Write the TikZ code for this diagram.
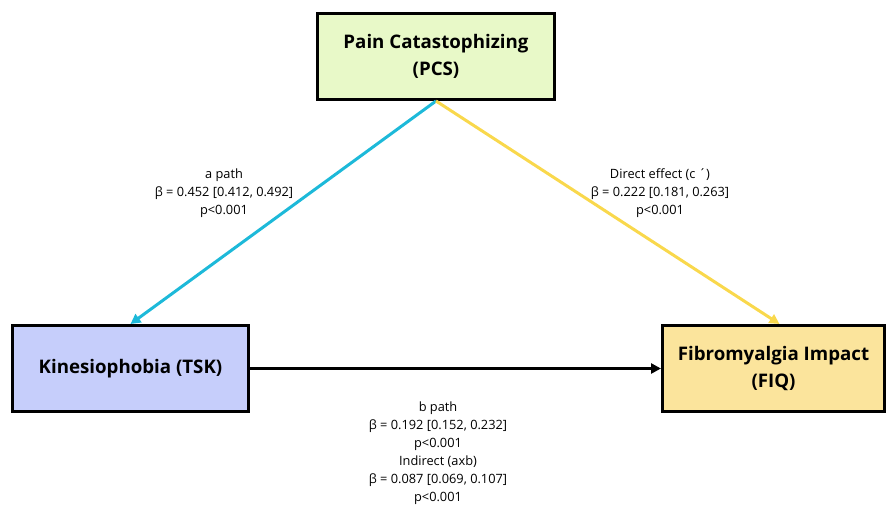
\documentclass[tikz,border=0pt]{standalone}
\usepackage{fontspec}
\setmainfont{Open Sans}
\usetikzlibrary{arrows.meta}

\definecolor{pcsfill}{HTML}{E8F9C8}
\definecolor{tskfill}{HTML}{C6CEFB}
\definecolor{fiqfill}{HTML}{FBE49C}
\definecolor{apath}{HTML}{1DB9D9}
\definecolor{cpath}{HTML}{F9D84C}

\begin{document}
\begin{tikzpicture}[x=1pt, y=1pt,
	main/.style = {draw, line width=3pt, minimum height=86pt, align=center, font=\fontsize{18.7}{27}\selectfont\bfseries},
	lab/.style = {align=center, font=\fontsize{12.8}{18}\selectfont},
	link/.style = {line width=3pt, -{Triangle[length=10pt, width=10pt]}}]
	\useasboundingbox (0,0) rectangle (888,-508);
	\node[main, fill=pcsfill, minimum width=237pt] (pcs) at (436,-56.5) {Pain Catastophizing\\(PCS)};
	\node[main, fill=tskfill, minimum width=236pt] (tsk) at (130.5,-368.5) {Kinesiophobia (TSK)};
	\node[main, fill=fiqfill, minimum width=222pt] (fiq) at (773.5,-368.5) {Fibromyalgia Impact\\(FIQ)};
	\node[lab] (alab) at (224,-193) {a path\\β = 0.452 [0.412, 0.492]\\p<0.001};
	\node[lab] (clab) at (660,-193) {Direct effect (c ´)\\β = 0.222 [0.181, 0.263]\\p<0.001};
	\node[lab] (blab) at (438,-453) {b path\\β = 0.192 [0.152, 0.232]\\p<0.001\\Indirect (axb)\\β = 0.087 [0.069, 0.107]\\p<0.001};
	\draw[link, apath] (pcs.south) -- (tsk.north);
	\draw[link, cpath] (pcs.south) -- ([xshift=6pt]fiq.north);
	\draw[link, black] (tsk.east) -- (fiq.west);
\end{tikzpicture}
\end{document}
